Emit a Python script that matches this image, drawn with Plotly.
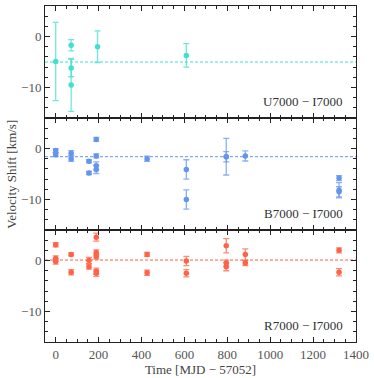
import plotly.graph_objects as go
from plotly.subplots import make_subplots

# ---- data ----
u_x = [0, 72, 72, 72, 195, 609]
u_y = [-4.9, -1.7, -6.2, -9.5, -2.0, -3.7]
u_e = [7.7, 1.1, 1.7, 5.2, 3.1, 2.3]
u_mean = -5.0

b_x = [0, 0, 72, 72, 155, 155, 189, 189, 189, 189, 426, 609, 609, 795, 795, 884, 1321, 1321, 1321]
b_y = [-0.4, -1.2, -0.9, -2.0, -2.5, -4.8, 1.8, -1.45, -3.4, -4.1, -2.0, -4.1, -10.0, -1.6, -1.6, -1.45, -5.8, -8.2, -8.5]
b_e = [0.4, 0.4, 0.5, 0.5, 0.3, 0.3, 0.4, 0.4, 0.8, 0.8, 0.5, 1.9, 1.9, 3.6, 1.0, 1.0, 0.5, 1.5, 1.0]
b_mean = -1.6

r_x = [0, 0, 0, 72, 72, 155, 155, 189, 189, 189, 189, 189, 426, 426, 609, 609, 795, 795, 795, 884, 884, 1321, 1321]
r_y = [3.1, 0.4, -0.2, 1.2, -2.3, 0.0, -1.2, 4.6, 1.6, 0.8, -2.1, -2.5, 1.2, -2.4, -0.1, -2.5, 2.9, -0.5, -1.2, 1.2, -0.5, 2.0, -2.3]
r_e = [0.4, 0.5, 0.5, 0.3, 0.5, 0.6, 0.5, 0.8, 0.5, 0.5, 0.6, 0.6, 0.4, 0.5, 0.9, 0.7, 1.4, 0.6, 0.8, 1.1, 0.5, 0.5, 0.7]
r_mean = 0.1

labels = ["U7000 \u2212 I7000", "B7000 \u2212 I7000", "R7000 \u2212 I7000"]
x_ticks = [0, 200, 400, 600, 800, 1000, 1200, 1400]

series = [
    (u_x, u_y, u_e, u_mean, (64, 224, 208)),
    (b_x, b_y, b_e, b_mean, (100, 149, 237)),
    (r_x, r_y, r_e, r_mean, (255, 99, 71)),
]

FONT = "Liberation Serif, Times New Roman, serif"
fig = make_subplots(rows=3, cols=1, shared_xaxes=True, vertical_spacing=0)

for i, (xs, ys, es, m, c) in enumerate(series, start=1):
    solid = "rgb(%d,%d,%d)" % c
    light = "rgba(%d,%d,%d,0.75)" % c
    fig.add_trace(go.Scatter(
        x=xs, y=ys, mode="markers",
        marker=dict(color=solid, size=5.5),
        error_y=dict(type="data", array=es, visible=True, color=light, thickness=1.3, width=3),
        showlegend=False), row=i, col=1)
    fig.add_hline(y=m, line=dict(color=solid, width=1, dash="3px,2px"), layer="below", row=i, col=1)
    fig.add_annotation(text=labels[i - 1], xref="x%s domain" % ("" if i == 1 else i),
                       yref="y%s domain" % ("" if i == 1 else i),
                       x=0.965, y=0.06, xanchor="right", yanchor="bottom", showarrow=False,
                       font=dict(family=FONT, size=13, color="#333"))

axis_common = dict(showline=True, linecolor="#222", linewidth=1, mirror="allticks",
                   ticks="inside", ticklen=5, tickwidth=1, tickcolor="#222",
                   showgrid=False, zeroline=False,
                   tickfont=dict(family=FONT, size=13, color="#555"))
for i in range(1, 4):
    fig.update_yaxes(range=[-16, 6], tickvals=[-10, 0], ticktext=["\u221210", "0"],
                     minor=dict(ticks="inside", ticklen=3, dtick=2, tick0=0, tickcolor="#222", showgrid=False),
                     row=i, col=1, **axis_common)
    fig.update_xaxes(range=[-50, 1400], tickvals=x_ticks,
                     minor=dict(ticks="inside", ticklen=3, dtick=50, tick0=0, tickcolor="#222", showgrid=False),
                     row=i, col=1, **axis_common)

fig.update_xaxes(title=dict(text="Time [MJD \u2212 57052]", font=dict(family=FONT, size=13, color="#444"), standoff=2),
                 row=3, col=1)
fig.add_annotation(text="Velocity Shift [km/s]", xref="paper", yref="paper", x=-0.11, y=0.5,
                   textangle=-90, showarrow=False, xanchor="center", yanchor="middle",
                   font=dict(family=FONT, size=13, color="#444"))

fig.update_layout(width=374, height=378, margin=dict(l=45, r=16, t=5, b=36),
                  plot_bgcolor="white", paper_bgcolor="white",
                  font=dict(family=FONT, size=13, color="#333"))
fig.write_html("out.html", config={"displayModeBar": False},
               post_script="document.body.style.margin='0';document.body.style.overflow='hidden';")
